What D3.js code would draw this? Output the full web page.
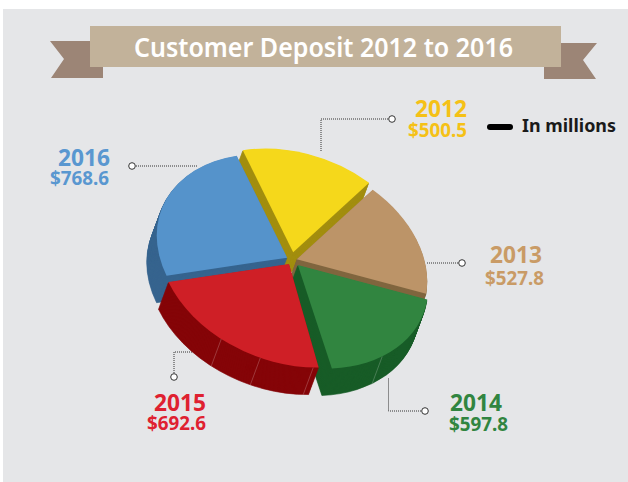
<!DOCTYPE html>
<html><head><meta charset="utf-8">
<script src="https://cdn.jsdelivr.net/npm/d3@7"></script>
<style>html,body{margin:0;padding:0;background:#fff}svg{display:block}text{font-family:"Noto Sans","Open Sans",sans-serif}</style>
</head><body><svg id="c" width="628" height="482"></svg>
<script>
const years = ["2012","2013","2014","2015","2016"];
const values = [500.5,527.8,597.8,692.6,768.6];
const valueLabels = ["$500.5","$527.8","$597.8","$692.6","$768.6"];
const topColors = ["#f5d81b","#bc9468","#318540","#cf1f26","#5593cb"];
const wallColors = ["#a38f10","#80663f","#185c27","#850508","#36648f"];
const labelColors = ["#f5c116","#c99b66","#318540","#df2130","#5997d0"];
const title = "Customer Deposit 2012 to 2016";

const explode = [0.08,0.04,0.06,0.05,0.04];
const trimEnd = [0,0,0.035,0,0];
const paintOrder = [0,1,4,2,3];
const seams = [[],[],[0.61],[0.03,0.32,0.55],[]];
// year label [x,baseline,width], value label [x,baseline,width]
const yearPos = [[415,117,52],[490,263,52],[450,411,52],[154,411,52],[58,166,52]];
const valuePos = [[408,137,59],[485,285,59],[449,431,59],[147,430,59],[50,185,59]];
const leaders = [
  [[392,119],[321,119],[321,152]],
  [[462,263],[427,263]],
  [[425,411],[388.5,411],[388.5,378]],
  [[174,377],[174,352],[192,352]],
  [[132,166],[197,166]]
];

const svg = d3.select("#c");
svg.append("rect").attr("x",3).attr("y",9).attr("width",625).attr("height",473).attr("fill","#e5e6e8");

// ribbon
const ribbon = d3.line();
svg.append("path").attr("fill","#9c8576").attr("d",ribbon([[50,41],[103,41],[103,78],[51,78],[64,59]])+"Z");
svg.append("path").attr("fill","#9c8576").attr("d",ribbon([[544,43],[597,43],[583,60],[596,79],[544,79]])+"Z");
svg.append("rect").attr("x",90).attr("y",26).attr("width",471).attr("height",41).attr("fill","#c2b29a");
svg.append("text").attr("x",134).attr("y",57).attr("font-size",27).attr("font-weight",600).attr("fill","#fff")
  .attr("textLength",379).attr("lengthAdjust","spacingAndGlyphs").text(title);

// leaders
const leaderG = svg.append("g");
leaders.forEach(pts=>{
  leaderG.append("path").attr("d",d3.line()(pts)).attr("fill","none").attr("stroke","#333").attr("stroke-width",1).attr("stroke-dasharray","1 1");
  leaderG.append("circle").attr("cx",pts[0][0]).attr("cy",pts[0][1]).attr("r",3.3).attr("fill","#fff").attr("stroke","#333").attr("stroke-width",1);
});

// pie: an affine view of a d3 pie
const cx=292, cy=260, k=0.97;
const ax=-52*k, ay=-105*k, bx=124*k, by=-19.3*k;   // images of the unit "up" and "right"
const depth=[-10,27];
const R=100;
const pie=d3.pie().sort(null).value(d=>d)(values);
const arc=d3.arc().innerRadius(0).outerRadius(R);
const matrix=`matrix(${bx/R},${by/R},${-ax/R},${-ay/R},0,0)`;
const toScreen=(th,r)=>[bx*Math.sin(th)*r+ax*Math.cos(th)*r, by*Math.sin(th)*r+ay*Math.cos(th)*r];

const pieG=svg.append("g").attr("transform",`translate(${cx},${cy})`);
const steps=d3.range(1,Math.ceil(Math.hypot(depth[0],depth[1]))+1);
paintOrder.forEach(i=>{
  const d=pie[i], mid=(d.startAngle+d.endAngle)/2;
  const off=toScreen(mid,explode[i]);
  const shape={startAngle:d.startAngle,endAngle:d.endAngle-trimEnd[i]};
  const g=pieG.append("g").attr("transform",`translate(${off[0]},${off[1]})`);
  const n=steps.length;
  steps.slice().reverse().forEach(s=>{
    g.append("path").attr("d",arc(shape)).attr("fill",wallColors[i]).attr("stroke",wallColors[i]).attr("stroke-width",0.5)
     .attr("transform",`translate(${depth[0]*s/n},${depth[1]*s/n}) ${matrix}`);
  });
  seams[i].forEach(f=>{
    const th=d.startAngle+f*(d.endAngle-d.startAngle);
    const p=toScreen(th,1);
    g.append("line").attr("x1",p[0]).attr("y1",p[1]).attr("x2",p[0]+depth[0]).attr("y2",p[1]+depth[1])
     .attr("stroke","#fff").attr("stroke-opacity",0.3).attr("stroke-width",0.7);
  });
  g.append("path").attr("d",arc(shape)).attr("fill",topColors[i]).attr("transform",matrix);
});

// labels
years.forEach((y,i)=>{
  svg.append("text").attr("x",yearPos[i][0]).attr("y",yearPos[i][1]).attr("font-size",22.5).attr("font-weight",700)
    .attr("fill",labelColors[i]).attr("textLength",yearPos[i][2]).attr("lengthAdjust","spacingAndGlyphs").text(y);
  svg.append("text").attr("x",valuePos[i][0]).attr("y",valuePos[i][1]).attr("font-size",19).attr("font-weight",700)
    .attr("fill",labelColors[i]).attr("textLength",valuePos[i][2]).attr("lengthAdjust","spacingAndGlyphs").text(valueLabels[i]);
});

// unit note
svg.append("rect").attr("x",487).attr("y",124).attr("width",26).attr("height",6).attr("rx",3).attr("fill","#000");
svg.append("text").attr("x",522).attr("y",132).attr("font-size",17).attr("font-weight",700).attr("fill","#1a1a1a")
  .attr("textLength",94).attr("lengthAdjust","spacingAndGlyphs").text("In millions");
</script></body></html>
